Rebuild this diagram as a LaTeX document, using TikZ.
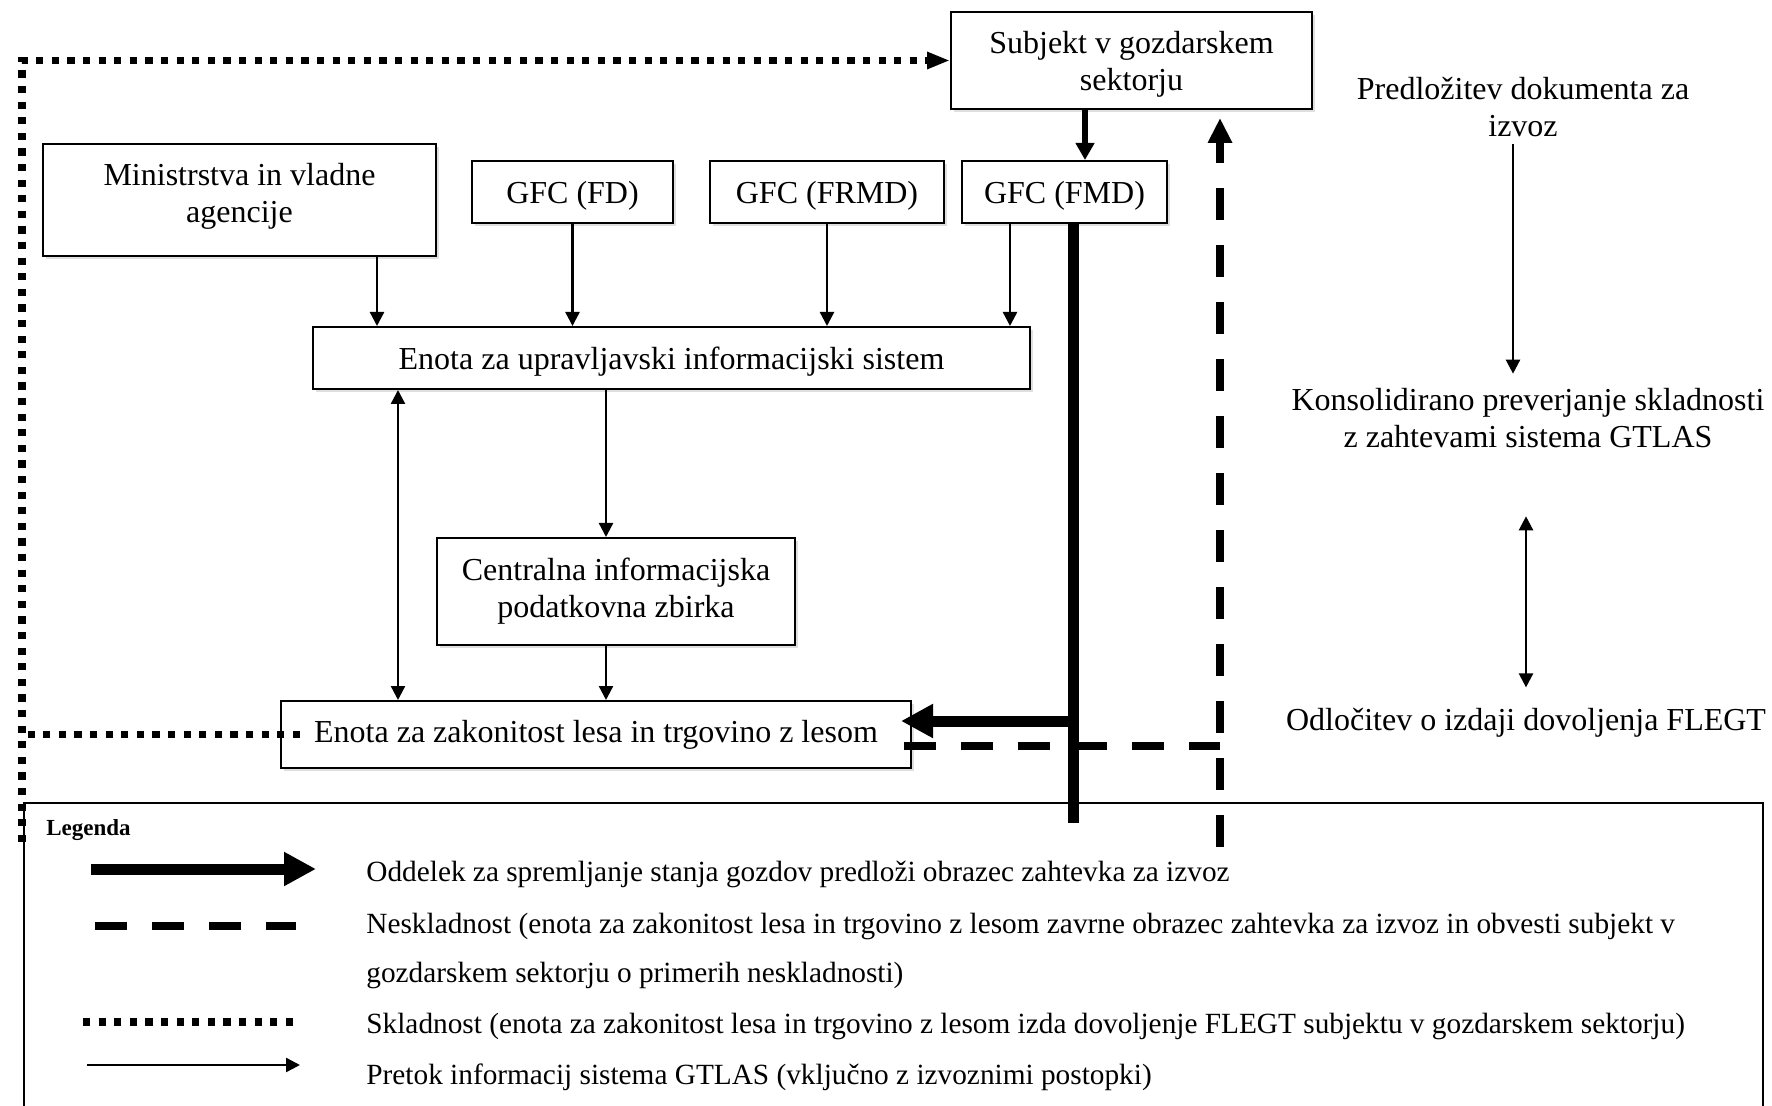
\documentclass[tikz,border=0pt]{standalone}
\usepackage{fontspec}
\setmainfont{Liberation Serif}
\usetikzlibrary{arrows.meta, positioning, calc, shadows}

\begin{document}
\begin{tikzpicture}[x=0.5pt, y=-0.5pt,
    box/.style={draw, line width=1pt, fill=white, align=center, inner sep=0pt,
        font=\fontsize{16}{18.5}\selectfont,
        drop shadow={shadow xshift=1.5pt, shadow yshift=-1.5pt, opacity=0.25}},
    sidetext/.style={align=center, font=\fontsize{16}{18.5}\selectfont},
    legtext/.style={anchor=west, inner sep=0pt, font=\fontsize{14.65}{17}\selectfont},
    infotip/.tip={Triangle[length=7pt, width=7pt]},
    info/.style={line width=1.2pt, -infotip},
    both/.style={line width=1.2pt, infotip-infotip},
    submit/.style={line width=3pt, -{Triangle[length=8.5pt, width=9pt]}},
    fmdpath/.style={line width=5.5pt},
    fmdarrow/.style={line width=5.5pt, -{Triangle[length=16pt, width=16pt]}},
    noncomp/.style={line width=4pt, dash pattern=on 16pt off 12.5pt},
    compl/.style={line width=3.6pt, dash pattern=on 3.6pt off 4.2pt}]
    \useasboundingbox (0,0) rectangle (1772,1106);

    % legend frame
    \draw[line width=0.8pt] (24,1106) -- (24,803) -- (1763,803) -- (1763,1106);
    \draw[line width=1.3pt] (24,803) -- (1261,803);

    % boxes
    \node[box, minimum width=180.5pt, minimum height=48.5pt, text depth=0pt] (subj) at (1131.5,60.5) {Subjekt v gozdarskem\\sektorju};
    \node[box, minimum width=196.5pt, minimum height=56pt, text depth=7pt] (min) at (239.5,200) {Ministrstva in vladne\\agencije};
    \node[box, minimum width=100.5pt, minimum height=31pt, text depth=0pt] (fd) at (572.5,192) {GFC (FD)};
    \node[box, minimum width=117pt, minimum height=31pt, text depth=0pt] (frmd) at (827,192) {GFC (FRMD)};
    \node[box, minimum width=102.5pt, minimum height=31pt, text depth=0pt] (fmd) at (1064.5,192) {GFC (FMD)};
    \node[box, minimum width=358.5pt, minimum height=31pt, text depth=0pt] (mis) at (671.5,358) {Enota za upravljavski informacijski sistem};
    \node[box, minimum width=179pt, minimum height=53.5pt] (cent) at (616,591.5) {Centralna informacijska\\podatkovna zbirka};
    \node[box, minimum width=315pt, minimum height=33.5pt] (zak) at (596,734.5) {Enota za zakonitost lesa in trgovino z lesom};

    % information flow
    \draw[info] (377,0 |- min.south) -- (377,0 |- mis.north);
    \draw[info] (fd.south) -- (fd.south |- mis.north);
    \draw[info] (frmd.south) -- (frmd.south |- mis.north);
    \draw[info] (1010,0 |- fmd.south) -- (1010,0 |- mis.north);
    \draw[both] (398,0 |- mis.south) -- (398,0 |- zak.north);
    \draw[info] (606,0 |- mis.south) -- (606,0 |- cent.north);
    \draw[info] (606,0 |- cent.south) -- (606,0 |- zak.north);
    \draw[submit] (1085,0 |- subj.south) -- (1085,0 |- fmd.north);

    % export request from FMD
    \coordinate (fmdjoin) at (1073,721);
    \coordinate (fmdend) at (1073,823);
    \draw[fmdpath] (1073,0 |- fmd.south) -- (fmdend);
    \draw[fmdarrow] (fmdjoin) -- ([xshift=-5.5pt]zak.east |- fmdjoin);

    % non-compliance
    \coordinate (ncturn) at (1220,746);
    \coordinate (ncend) at (1220,847);
    \draw[noncomp] ([xshift=-4pt]zak.east |- ncturn) -- (ncturn);
    \draw[noncomp, -{Triangle[length=12.5pt, width=11.5pt]}] (ncend) -- ([yshift=-4pt]subj.south -| ncturn);

    % compliance
    \coordinate (cptop) at (22,60.5);
    \coordinate (cpbot) at (22,842);
    \draw[compl] ([xshift=10pt]zak.west) -- (zak.west -| cpbot);
    \draw[compl, -{Triangle[length=11.5pt, width=8pt]}] (cpbot) -- (cptop) -- (subj.west);

    % steps on the right
    \node[sidetext] (step1) at (1523,107.5) {Predložitev dokumenta za\\izvoz};
    \node[sidetext] (step2) at (1528,418.5) {Konsolidirano preverjanje skladnosti\\z zahtevami sistema GTLAS};
    \node[sidetext] (step3) at (1526,723) {Odločitev o izdaji dovoljenja FLEGT};
    \draw[info, shorten >=4pt] ([xshift=-5pt]step1.south) -- ([xshift=-5pt]step1.south |- step2.north);
    \draw[both, shorten <=30.5pt, shorten >=7pt] (step2.south -| step3.north) -- (step3.north);

    % legend
    \node[anchor=west, inner sep=0pt, font=\bfseries\fontsize{11.5}{13}\selectfont] (legtitle) at (46,830) {Legenda};
    \draw[fmdarrow] (91,869) -- (316,869);
    \draw[noncomp] (95,926) -- (296,926);
    \draw[compl] (83,1022) -- (296,1022);
    \draw[info] (87,1065) -- (300,1065);
    \node[legtext] (lg1) at (366,874) {Oddelek za spremljanje stanja gozdov predloži obrazec zahtevka za izvoz};
    \node[legtext] (lg2) at (366,926) {Neskladnost (enota za zakonitost lesa in trgovino z lesom zavrne obrazec zahtevka za izvoz in obvesti subjekt v};
    \node[legtext] (lg2b) at (366,975) {gozdarskem sektorju o primerih neskladnosti)};
    \node[legtext] (lg3) at (366,1026) {Skladnost (enota za zakonitost lesa in trgovino z lesom izda dovoljenje FLEGT subjektu v gozdarskem sektorju)};
    \node[legtext] (lg4) at (366,1077) {Pretok informacij sistema GTLAS (vključno z izvoznimi postopki)};
\end{tikzpicture}
\end{document}
